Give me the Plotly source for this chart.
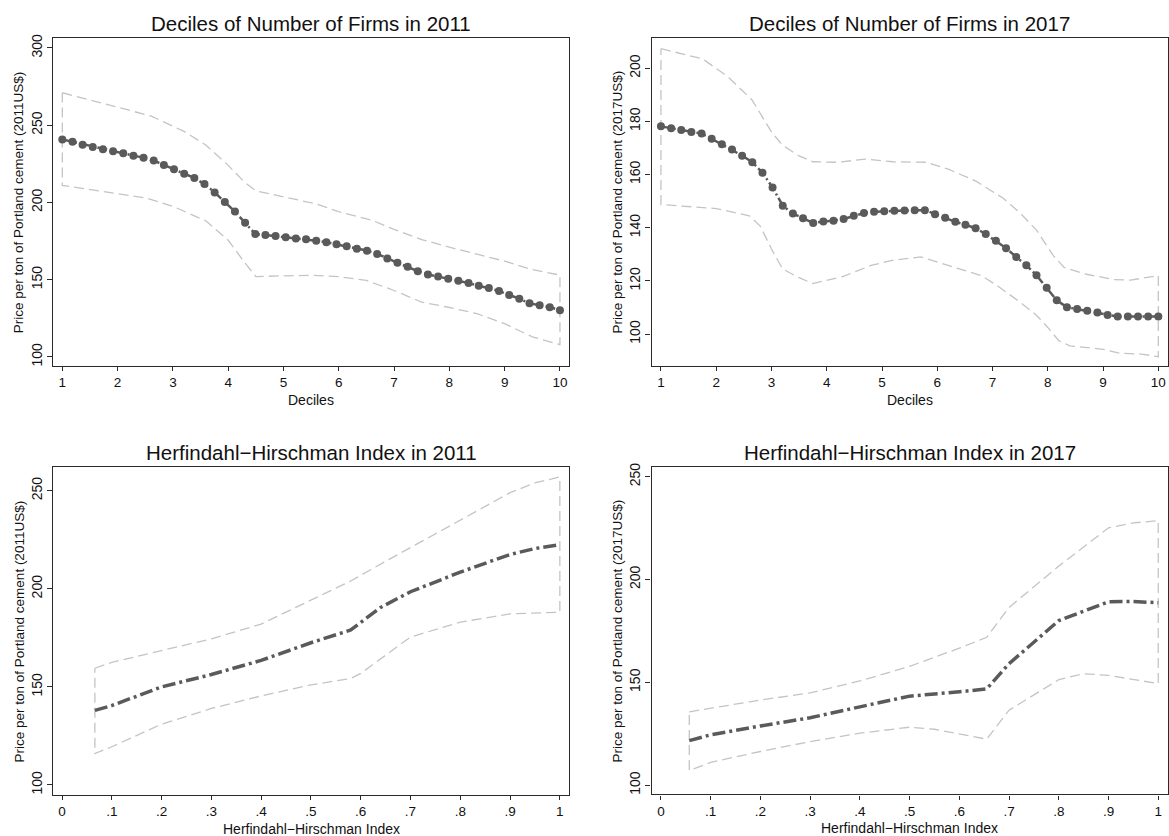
import plotly.graph_objects as go

# ---------------- data ----------------
decile_x = [1.0, 1.184, 1.367, 1.551, 1.735, 1.918, 2.102, 2.286, 2.469, 2.653,
            2.837, 3.020, 3.204, 3.388, 3.571, 3.755, 3.939, 4.122, 4.306, 4.490,
            4.673, 4.857, 5.041, 5.224, 5.408, 5.592, 5.776, 5.959, 6.143, 6.327,
            6.510, 6.694, 6.878, 7.061, 7.245, 7.429, 7.612, 7.796, 7.980, 8.163,
            8.347, 8.531, 8.714, 8.898, 9.082, 9.265, 9.449, 9.633, 9.816, 10.0]

price_dec_2011 = [240.8, 239.3, 237.4, 235.9, 234.4, 233.1, 231.8, 230.3, 229.0, 227.1,
                  224.3, 221.5, 218.5, 215.8, 211.9, 206.5, 200.3, 194.1, 186.8, 179.5,
                  178.9, 178.2, 177.4, 176.7, 176.1, 175.2, 174.2, 172.9, 171.6, 170.1,
                  168.8, 166.7, 163.7, 160.9, 158.3, 155.5, 153.4, 152.1, 150.6, 149.3,
                  147.8, 146.1, 144.6, 142.7, 140.1, 137.7, 134.7, 133.4, 132.2, 130.2]

price_dec_2017 = [178.1, 177.4, 176.7, 176.0, 175.4, 173.4, 171.4, 169.4, 167.1, 164.6,
                  160.7, 155.1, 148.3, 145.3, 143.6, 141.8, 142.3, 142.6, 143.3, 144.5,
                  145.5, 146.0, 146.2, 146.4, 146.5, 146.6, 146.6, 145.1, 143.7, 142.2,
                  141.1, 139.8, 137.6, 135.1, 132.3, 129.0, 125.9, 122.1, 117.4, 112.7,
                  110.1, 109.4, 108.8, 108.1, 107.2, 106.6, 106.6, 106.6, 106.6, 106.6]

ci_dec_2011_up_x = [1.0, 1.6, 2.6, 3.2, 3.6, 4.0, 4.3, 4.5, 5.0, 5.6, 6.0, 6.6, 7.0, 7.5, 8.0, 9.0, 9.5, 10.0]
ci_dec_2011_up = [271.0, 265.5, 256.0, 246.0, 237.0, 224.0, 213.0, 207.5, 203.5, 199.0, 194.0, 188.5, 182.5, 176.0, 171.0, 162.0, 156.5, 153.0]
ci_dec_2011_lo_x = [1.0, 2.5, 3.0, 3.6, 4.0, 4.3, 4.5, 5.0, 5.5, 6.0, 6.5, 7.0, 7.5, 8.0, 8.5, 9.0, 9.5, 10.0]
ci_dec_2011_lo = [211.0, 203.0, 197.5, 188.0, 175.5, 161.0, 152.0, 152.5, 152.8, 152.0, 149.5, 143.0, 135.5, 132.0, 128.0, 121.5, 113.0, 108.0]

ci_dec_2017_up_x = [1.0, 1.75, 2.2, 2.65, 3.0, 3.2, 3.5, 3.75, 4.2, 4.7, 5.2, 5.8, 6.2, 6.7, 7.2, 7.5, 7.8, 8.1, 8.3, 8.7, 9.2, 9.5, 10.0]
ci_dec_2017_up = [207.3, 203.5, 197.0, 188.0, 176.0, 171.0, 167.0, 164.8, 164.6, 165.8, 164.8, 164.6, 162.0, 157.5, 151.0, 145.5, 139.0, 129.5, 125.0, 122.5, 120.5, 120.3, 122.0]
ci_dec_2017_lo_x = [1.0, 2.0, 2.6, 2.8, 3.0, 3.2, 3.5, 3.75, 4.3, 4.8, 5.2, 5.7, 6.2, 6.8, 7.1, 7.5, 7.8, 8.0, 8.2, 8.4, 9.0, 9.3, 9.7, 10.0]
ci_dec_2017_lo = [148.7, 147.2, 144.5, 140.5, 132.0, 124.5, 121.2, 119.0, 121.7, 125.8, 127.8, 129.0, 125.8, 122.0, 118.0, 112.0, 107.0, 102.5, 97.5, 95.6, 94.3, 92.8, 92.5, 91.5]

hhi_2011_x = [0.066, 0.1, 0.2, 0.3, 0.4, 0.5, 0.58, 0.64, 0.7, 0.8, 0.9, 0.95, 1.0]
price_hhi_2011 = [138.0, 140.5, 150.0, 156.3, 163.5, 172.5, 179.0, 190.5, 198.5, 208.5, 217.5, 220.5, 222.5]
ci_hhi_2011_up_x = [0.066, 0.1, 0.2, 0.3, 0.4, 0.5, 0.58, 0.65, 0.7, 0.8, 0.9, 0.95, 1.0]
ci_hhi_2011_up = [159.5, 162.5, 168.5, 174.5, 182.0, 194.0, 204.0, 214.0, 221.0, 235.0, 249.0, 254.0, 257.0]
ci_hhi_2011_lo_x = [0.066, 0.1, 0.2, 0.3, 0.4, 0.5, 0.58, 0.6, 0.7, 0.8, 0.9, 1.0]
ci_hhi_2011_lo = [116.0, 119.5, 131.0, 139.0, 145.4, 151.0, 154.3, 156.9, 175.4, 183.0, 187.2, 188.1]

hhi_2017_x = [0.057, 0.1, 0.2, 0.3, 0.4, 0.5, 0.6, 0.655, 0.7, 0.8, 0.9, 0.95, 1.0]
price_hhi_2017 = [121.7, 124.5, 128.8, 132.8, 138.1, 143.3, 145.4, 146.8, 159.1, 180.0, 189.2, 189.3, 188.7]
ci_hhi_2017_up_x = [0.057, 0.2, 0.3, 0.4, 0.5, 0.6, 0.655, 0.7, 0.8, 0.9, 0.95, 1.0]
ci_hhi_2017_up = [135.7, 141.4, 144.9, 150.7, 157.8, 166.6, 171.9, 186.4, 206.5, 225.1, 227.5, 228.6]
ci_hhi_2017_lo_x = [0.057, 0.1, 0.2, 0.3, 0.4, 0.5, 0.55, 0.655, 0.7, 0.8, 0.85, 0.9, 1.0]
ci_hhi_2017_lo = [107.2, 111.1, 116.4, 121.2, 125.3, 128.2, 127.2, 122.4, 136.5, 151.3, 154.2, 153.4, 149.4]

titles = ["Deciles of Number of Firms in 2011", "Deciles of Number of Firms in 2017",
          "Herfindahl\u2212Hirschman Index in 2011", "Herfindahl\u2212Hirschman Index in 2017"]
ytitles = ["Price per ton of Portland cement (2011US$)", "Price per ton of Portland cement (2017US$)",
           "Price per ton of Portland cement (2011US$)", "Price per ton of Portland cement (2017US$)"]
xtitles = ["Deciles", "Deciles", "Herfindahl\u2212Hirschman Index", "Herfindahl\u2212Hirschman Index"]

dec_ticks = [1, 2, 3, 4, 5, 6, 7, 8, 9, 10]
hhi_ticks = [0, 0.1, 0.2, 0.3, 0.4, 0.5, 0.6, 0.7, 0.8, 0.9, 1.0]
hhi_ticktext = ["0", ".1", ".2", ".3", ".4", ".5", ".6", ".7", ".8", ".9", "1"]

# ---------------- style ----------------
FONT = "Liberation Sans, Arial, Helvetica, sans-serif"
MAIN = "#5a5a5a"
CI = "#c4c4c4"
TXT = "#111111"

# plot-area boxes in pixels: (left, right, top, bottom)
W, H = 1169, 836
boxes = [(53.3, 568.8, 33.3, 363.5), (651.5, 1167.7, 33.3, 363.5),
         (53.3, 568.8, 465.7, 795.7), (651.5, 1167.7, 465.7, 795.2)]
yranges = [[94.2, 306.4], [88.05, 211.3], [94.9, 261.9], [95.5, 254.5]]
xranges = [[0.837, 10.16], [0.829, 10.17], [-0.0175, 1.018], [-0.019, 1.019]]
yticks = [[100, 150, 200, 250, 300], [100, 120, 140, 160, 180, 200],
          [100, 150, 200, 250], [100, 150, 200, 250]]
title_y = [18.5, 18.5, 451, 451]

fig = go.Figure()


def add_ci(k, ux, uy, lx, ly):
    xs = list(ux) + list(reversed(lx)) + [ux[0]]
    ys = list(uy) + list(reversed(ly)) + [uy[0]]
    fig.add_trace(go.Scatter(x=xs, y=ys, mode="lines",
                             line=dict(color=CI, width=1.3, dash="10px,5px"),
                             xaxis=f"x{k}", yaxis=f"y{k}", showlegend=False,
                             hoverinfo="skip"))


# panel 1
add_ci(1, ci_dec_2011_up_x, ci_dec_2011_up, ci_dec_2011_lo_x, ci_dec_2011_lo)
fig.add_trace(go.Scatter(x=decile_x, y=price_dec_2011, mode="lines+markers",
                         line=dict(color=MAIN, width=2.5, dash="10px,3px,2px,3px"),
                         marker=dict(color=MAIN, size=8),
                         xaxis="x1", yaxis="y1", showlegend=False))
# panel 2
add_ci(2, ci_dec_2017_up_x, ci_dec_2017_up, ci_dec_2017_lo_x, ci_dec_2017_lo)
fig.add_trace(go.Scatter(x=decile_x, y=price_dec_2017, mode="lines+markers",
                         line=dict(color=MAIN, width=2.5, dash="10px,3px,2px,3px"),
                         marker=dict(color=MAIN, size=8),
                         xaxis="x2", yaxis="y2", showlegend=False))
# panel 3
add_ci(3, ci_hhi_2011_up_x, ci_hhi_2011_up, ci_hhi_2011_lo_x, ci_hhi_2011_lo)
fig.add_trace(go.Scatter(x=hhi_2011_x, y=price_hhi_2011, mode="lines",
                         line=dict(color=MAIN, width=3.5, dash="13px,4px,3px,4px"),
                         xaxis="x3", yaxis="y3", showlegend=False))
# panel 4
add_ci(4, ci_hhi_2017_up_x, ci_hhi_2017_up, ci_hhi_2017_lo_x, ci_hhi_2017_lo)
fig.add_trace(go.Scatter(x=hhi_2017_x, y=price_hhi_2017, mode="lines",
                         line=dict(color=MAIN, width=3.5, dash="13px,4px,3px,4px"),
                         xaxis="x4", yaxis="y4", showlegend=False))

layout = dict(width=W, height=H, autosize=False,
              margin=dict(l=0, r=0, t=0, b=0),
              paper_bgcolor="white", plot_bgcolor="white",
              font=dict(family=FONT, size=14, color=TXT),
              showlegend=False)
annotations = []
for i in range(4):
    k = i + 1
    l, r, t, b = boxes[i]
    xd = [l / W, r / W]
    yd = [1 - b / H, 1 - t / H]
    if i < 2:
        xt = dict(tickmode="array", tickvals=dec_ticks, ticktext=[str(v) for v in dec_ticks])
    else:
        xt = dict(tickmode="array", tickvals=hhi_ticks, ticktext=hhi_ticktext)
    layout[f"xaxis{k}" if k > 1 else "xaxis"] = dict(
        domain=xd, range=xranges[i], anchor=f"y{k}", showgrid=False, zeroline=False,
        showline=True, mirror=True, linecolor="#2a2a2a", linewidth=1.3,
        ticks="outside", ticklen=4, tickwidth=1, tickcolor="#2a2a2a",
        tickfont=dict(size=13.5, family=FONT, color=TXT), **xt)
    layout[f"yaxis{k}" if k > 1 else "yaxis"] = dict(
        domain=yd, range=yranges[i], anchor=f"x{k}", showgrid=False, zeroline=False,
        showline=True, mirror=True, linecolor="#2a2a2a", linewidth=1.3,
        ticks="outside", ticklen=5, tickwidth=1, tickcolor="#2a2a2a",
        tickmode="array", tickvals=yticks[i], ticktext=[str(v) for v in yticks[i]],
        tickangle=-90, tickfont=dict(size=14, family=FONT, color=TXT))
    cx = (l + r) / 2 / W
    annotations.append(dict(text=titles[i], x=cx, y=1 - title_y[i] / H, xref="paper", yref="paper",
                            xanchor="center", yanchor="middle", showarrow=False,
                            font=dict(size=20.5, family=FONT, color=TXT)))
    annotations.append(dict(text=xtitles[i], x=cx, y=1 - (b + 34) / H, xref="paper", yref="paper",
                            xanchor="center", yanchor="middle", showarrow=False,
                            font=dict(size=14, family=FONT, color=TXT)))
    annotations.append(dict(text=ytitles[i], x=(l - 34) / W, y=1 - (t + b) / 2 / H,
                            xref="paper", yref="paper", textangle=-90,
                            xanchor="center", yanchor="middle", showarrow=False,
                            font=dict(size=13.5, family=FONT, color=TXT)))
layout["annotations"] = annotations
fig.update_layout(**layout)

fig.write_html("out.html")
